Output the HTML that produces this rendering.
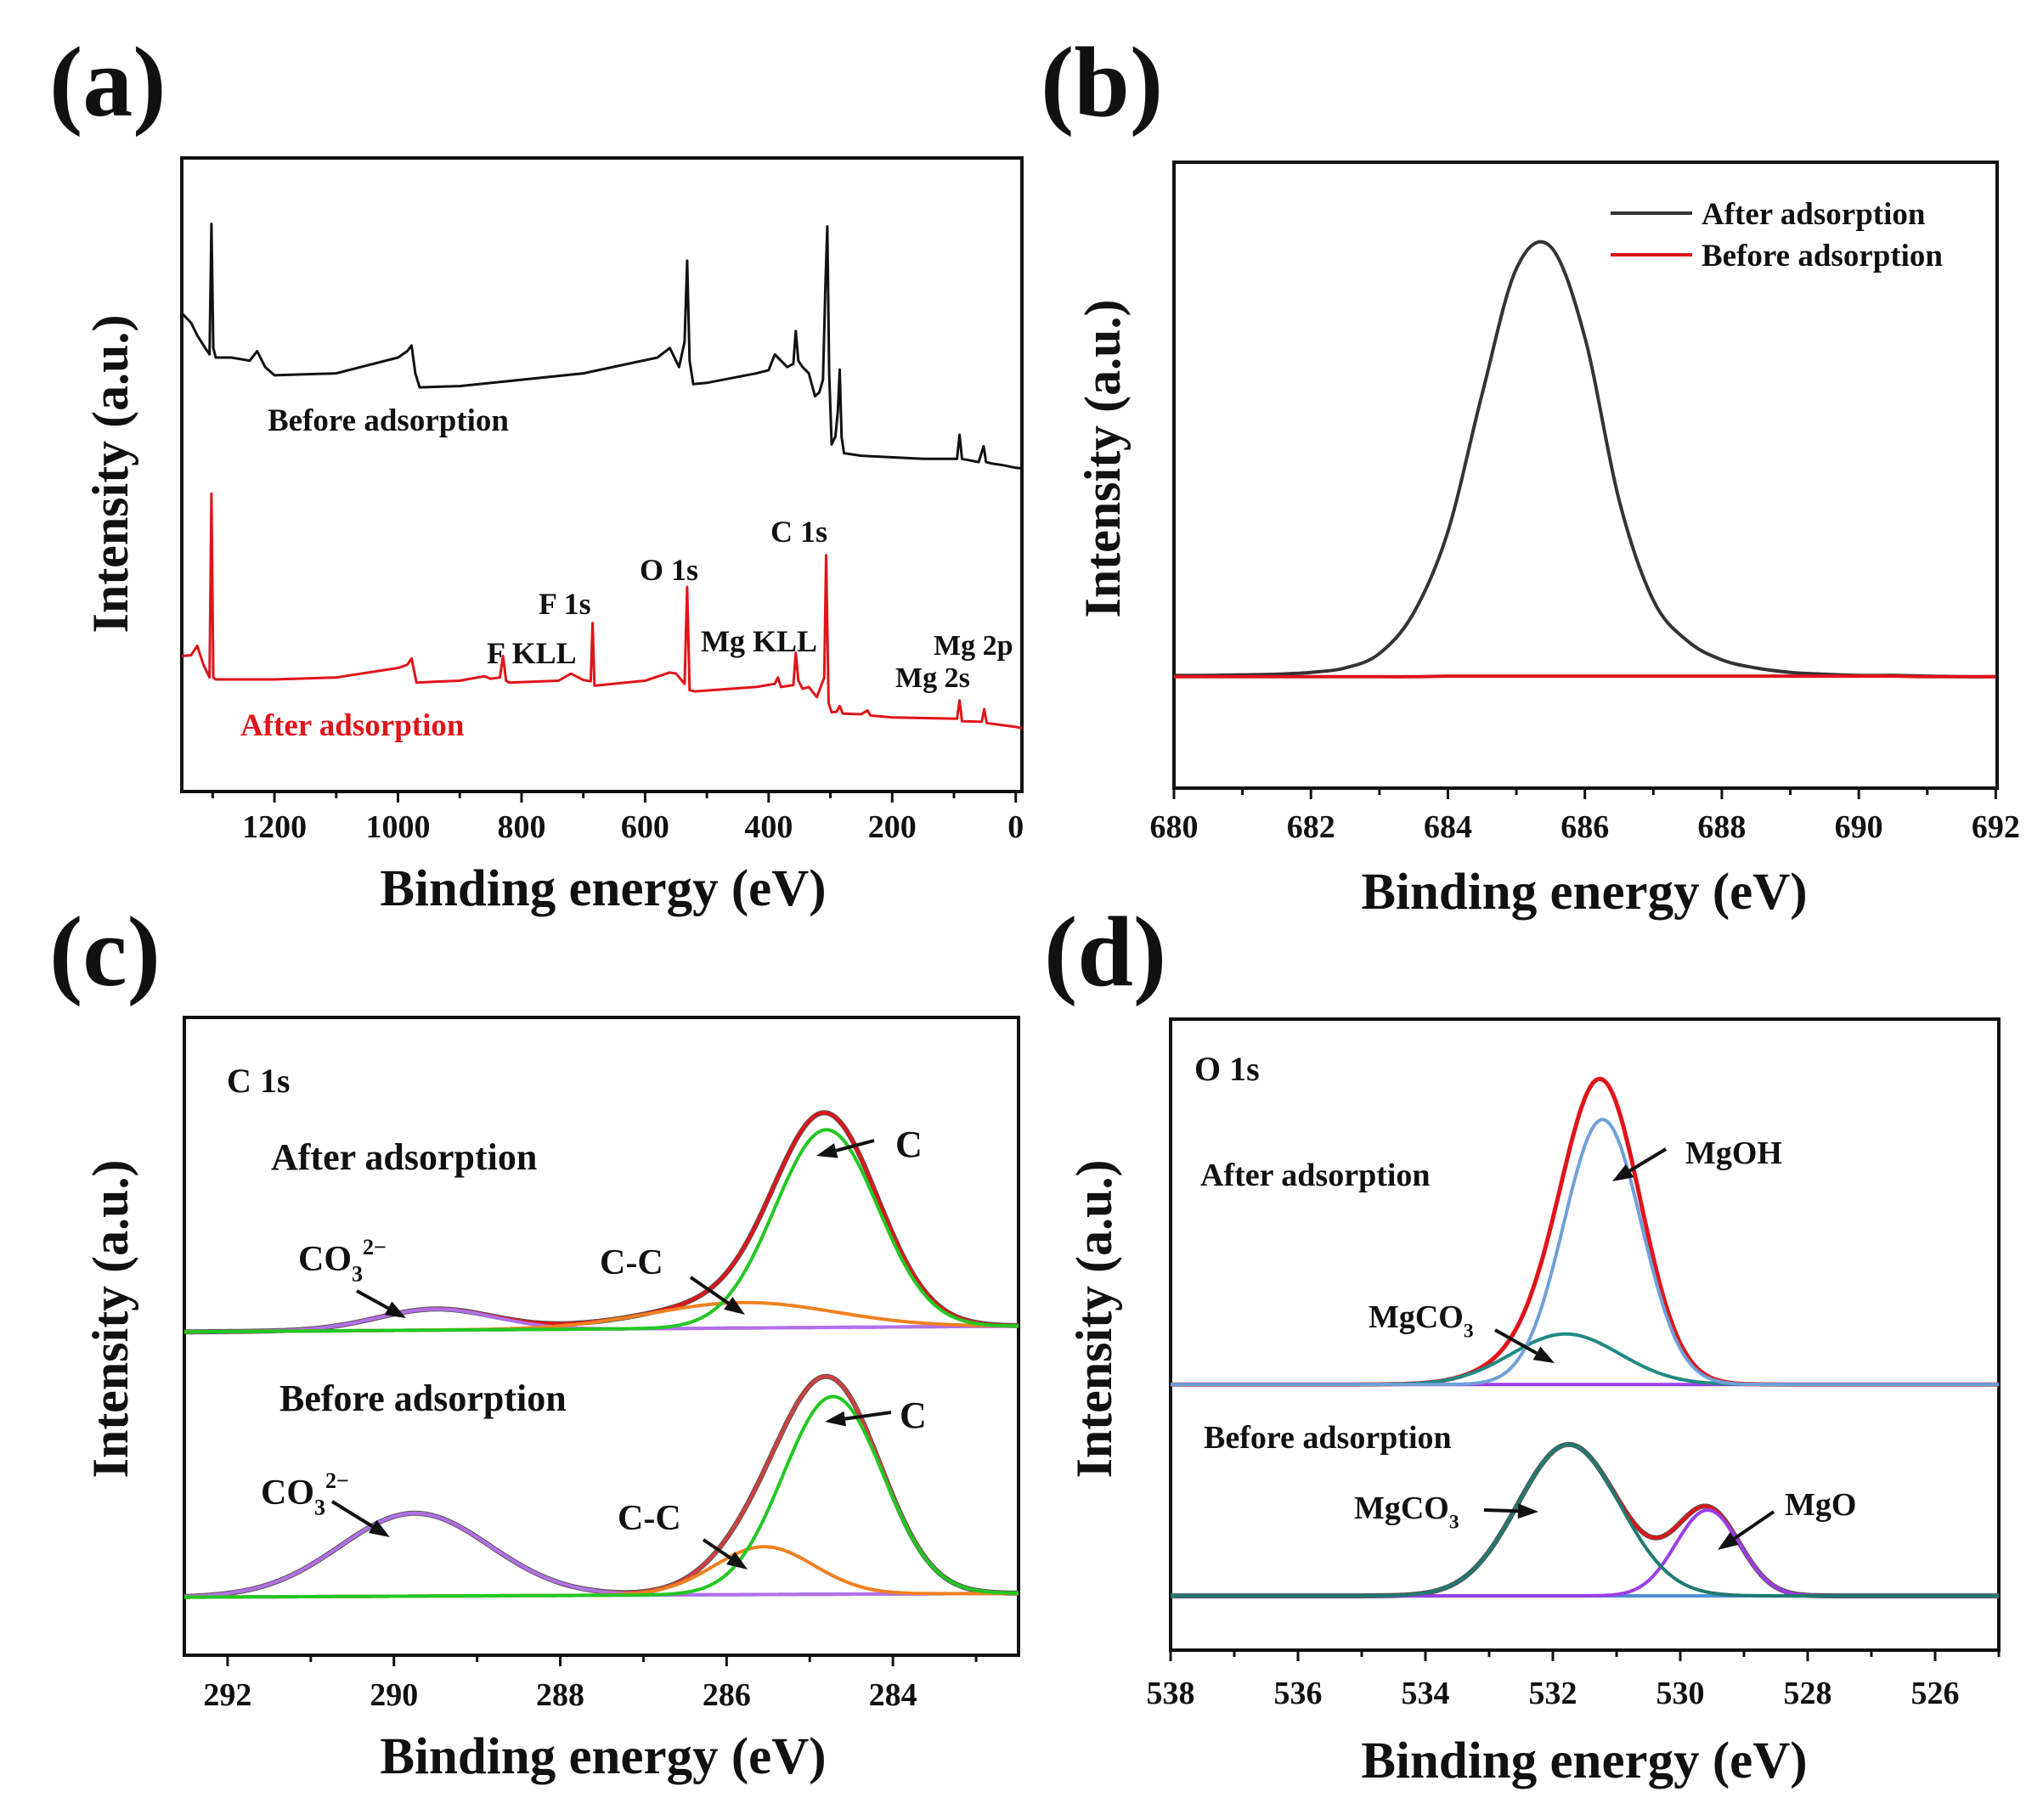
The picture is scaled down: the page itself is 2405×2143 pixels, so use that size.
<!DOCTYPE html>
<html><head><meta charset="utf-8"><style>
html,body{margin:0;padding:0;background:#fff}
svg{display:block}
text{font-family:"Liberation Serif","Times New Roman",serif;font-weight:bold;fill:#111}
</style></head><body>
<svg id="fig" xmlns="http://www.w3.org/2000/svg" width="2405" height="2143" viewBox="0 0 2405 2143">
<rect x="0" y="0" width="2405" height="2143" fill="#fff"/>
</svg>
<script>
// ---------- Panel (a) survey data ----------
const aBeforeE=[1350,1335,1325,1312,1305,1302,1299,1295,1270,1240,1228,1215,1200,1100,1000,985,978,972,965,900,700,580,560,545,536,532,528,522,500,420,400,390,370,360,356,352,345,335,325,318,312,308,305,302,298,292,288,285,282,278,250,150,95,91,87,60,52,48,40,20,0,-10];
const aBeforeI=[75.5,74,72,70,69,89.6,70,68.5,68.5,68,69.5,67,65.7,66,68.5,69.5,70.4,66,63.8,64,66,68.5,70,67,71,83.8,68,64.3,64.5,66,66.5,69,67,67.5,72.7,68,67,66,62.4,63,65,80,89.2,66,54.8,56,60,66.6,56,53.4,53,52.5,52.5,56.3,52.5,52,54.5,52,51.8,51.5,51.1,51];
const aAfterE=[1350,1335,1325,1315,1305,1302,1299,1295,1200,1100,1000,985,978,970,900,860,850,835,830,825,820,740,720,700,688,685,682,600,560,550,536,532,528,520,420,390,385,380,360,356,352,345,335,322,310,307,303,298,290,285,280,250,240,235,200,95,91,87,55,51,47,0,-10];
const aAfterI=[21.4,21.5,23,20,18,47,18,17.7,17.7,18,19.5,20,21,17.2,17.5,18.2,17.8,18,21.4,17.5,17.2,17.5,18.6,17.6,17.4,26.6,16.7,17.5,18.8,18.6,17,32.3,16,15.8,16.5,17,18,16.5,16.8,21.9,17.5,16.2,16.5,14.9,18,37.3,14,12.5,12.6,13.5,12.3,12.2,12.8,12,11.7,11.5,14.4,11.1,11,13,10.8,10.2,10];
const aTicks=[1200,1000,800,600,400,200,0];
// ---------- Panel (b) F 1s ----------
const bE=[680,680.5,681,681.5,682,682.5,683,683.5,684,684.5,685,685.5,686,686.5,687,687.5,688,688.5,689,689.5,690,690.5,691,691.5,692];
const bAfter=[0.18,0.18,0.181,0.182,0.185,0.192,0.215,0.28,0.41,0.63,0.83,0.865,0.72,0.46,0.30,0.235,0.205,0.192,0.185,0.182,0.18,0.18,0.179,0.178,0.178];
const bBefore=[0.178,0.178,0.178,0.178,0.178,0.178,0.178,0.178,0.179,0.179,0.179,0.179,0.179,0.179,0.179,0.179,0.179,0.179,0.179,0.179,0.179,0.179,0.178,0.178,0.178];
const bTicks=[680,682,684,686,688,690,692];
// ---------- Panel (c) C 1s fitted components: [center eV, amplitude, sigma] ----------
const cAfterBase=[0.507,0.516];
const cAfterC=[284.8,0.31,0.62];
const cAfterCC=[285.8,0.04,1.1];
const cAfterCO3=[289.5,0.033,0.7];
const cBeforeBase=[0.091,0.097];
const cBeforeC=[284.72,0.31,0.6];
const cBeforeCC=[285.55,0.075,0.6];
const cBeforeCO3=[289.75,0.13,0.9];
const cTicks=[292,290,288,286,284];
// ---------- Panel (d) O 1s fitted components ----------
const dAfterBase=[0.421,0.421];
const dAfterMgOH=[531.22,0.42,0.61];
const dAfterMgCO3=[531.8,0.08,0.85];
const dBeforeBase=[0.086,0.086];
const dBeforeMgCO3=[531.75,0.24,0.8];
const dBeforeMgO=[529.57,0.136,0.5];
const dTicks=[538,536,534,532,530,528,526];

const NS="http://www.w3.org/2000/svg";
const svg=document.getElementById('fig');
function el(tag,attrs,parent){const e=document.createElementNS(NS,tag);for(const k in attrs)e.setAttribute(k,attrs[k]);(parent||svg).appendChild(e);return e;}
function txt(s,x,y,size,attrs,parent){const t=el('text',Object.assign({x:x,y:y,'font-size':size},attrs||{}),parent);t.textContent=s;return t;}

function makeAxes(P){
  P.sx=e=>P.x0+(P.eL-e)/(P.eL-P.eR)*(P.x1-P.x0);
  P.sy=f=>P.y1-f*(P.y1-P.y0);
  return P;
}
function drawFrame(P,name,ticks,minor,tickY,titleX,titleY,ytX,ytY){
  const g=el('g',{});
  
  
  const fr=el('rect',{x:P.x0,y:P.y0,width:P.x1-P.x0,height:P.y1-P.y0,fill:'none',stroke:'#111','stroke-width':4},g);
  
  
  ticks.forEach(v=>{const x=P.sx(v);
    const l=el('line',{x1:x,y1:P.y1,x2:x,y2:P.y1+13,stroke:'#111','stroke-width':3},g);
    
    
    const t=txt(String(v),x,tickY,38,{'text-anchor':'middle'},g);
    
    
  });
  minor.forEach(v=>{const x=P.sx(v);
    const l=el('line',{x1:x,y1:P.y1,x2:x,y2:P.y1+8,stroke:'#111','stroke-width':3},g);
    
    
  });
  const xt=txt('Binding energy (eV)',titleX,titleY,61,{'text-anchor':'middle'},g);
  
  
  const yt=txt('Intensity (a.u.)',0,0,60,{'text-anchor':'middle',transform:`translate(${ytX},${ytY}) rotate(-90)`},g);
  
  
}
function polyPath(P,E,I,scaleI){
  return E.map((e,i)=>(i?'L':'M')+P.sx(e).toFixed(1)+','+P.sy(I[i]*scaleI).toFixed(1)).join(' ');
}
function smoothPath(P,E,I){
  const pts=E.map((e,i)=>[P.sx(e),P.sy(I[i])]);
  let d='M'+pts[0][0]+','+pts[0][1];
  for(let i=0;i<pts.length-1;i++){
    const p0=pts[Math.max(0,i-1)],p1=pts[i],p2=pts[i+1],p3=pts[Math.min(pts.length-1,i+2)];
    const c1=[p1[0]+(p2[0]-p0[0])/6,p1[1]+(p2[1]-p0[1])/6],c2=[p2[0]-(p3[0]-p1[0])/6,p2[1]-(p3[1]-p1[1])/6];
    d+=` C${c1[0].toFixed(1)},${c1[1].toFixed(1)} ${c2[0].toFixed(1)},${c2[1].toFixed(1)} ${p2[0].toFixed(1)},${p2[1].toFixed(1)}`;
  }
  return d;
}
function gauss(c,e){return c[1]*Math.exp(-Math.pow(e-c[0],2)/(2*c[2]*c[2]));}
function fitPath(P,base,comps){
  let d='';const N=300;
  for(let i=0;i<=N;i++){const e=P.eL+(P.eR-P.eL)*i/N;
    const b=base[0]+(base[1]-base[0])*i/N;
    let v=b;comps.forEach(c=>v+=gauss(c,e));
    d+=(i?'L':'M')+P.sx(e).toFixed(1)+','+P.sy(v).toFixed(1)+' ';}
  return d;
}
function drawPath(d,color,w,name){
  const p=el('path',{d:d,fill:'none',stroke:color,'stroke-width':w,'stroke-linejoin':'round'});
  
  
  return p;
}
function label(s,x,y,size,name,color){
  const t=txt(s,x,y,size,color?{style:'fill:'+color}:{});
  
  
  return t;
}
function chemLabel(base,sub,sup,x,y,size,name){
  const t=el('text',{x:x,y:y,'font-size':size});
  
  
  const a=el('tspan',{},t);a.textContent=base;
  const b=el('tspan',{dy:size*0.3,'font-size':size*0.62},t);b.textContent=sub;
  if(sup){const c=el('tspan',{dy:-size*0.75,'font-size':size*0.62},t);c.textContent=sup;}
  return t;
}
function arrow(x1,y1,x2,y2,name){
  const g=el('g',{});
  
  
  const ang=Math.atan2(y2-y1,x2-x1),L=24,W=9;
  const bx=x2-L*Math.cos(ang),by=y2-L*Math.sin(ang);
  el('line',{x1:x1,y1:y1,x2:bx,y2:by,stroke:'#111','stroke-width':4},g);
  el('polygon',{points:`${x2},${y2} ${bx-W*Math.sin(ang)},${by+W*Math.cos(ang)} ${bx+W*Math.sin(ang)},${by-W*Math.cos(ang)}`,fill:'#111'},g);
}
function panelLetter(s,x,y,name){const t=txt(s,x,y,118,{});}

// ===== Panel a =====
const A=makeAxes({x0:214,x1:1203,y0:186,y1:932,eL:1350,eR:-10});
panelLetter('(a)',58,136,'panel-label-a');
drawFrame(A,'panel-a',aTicks,[1300,1100,900,700,500,300,100],986,710,1066,150,558);
drawPath(polyPath(A,aBeforeE,aBeforeI,0.01),'#111',3,'survey-before-line');
drawPath(polyPath(A,aAfterE,aAfterI,0.01),'#e0141a',3,'survey-after-line');
label('Before adsorption',315,507,37,'before-label-a');
label('After adsorption',283,866,37,'after-label-a','#e0141a');
label('O 1s',753,683,36,'o1s-peak-label');
label('C 1s',907,638,36,'c1s-peak-label');
label('F 1s',634,723,36,'f1s-peak-label');
label('F KLL',573,781,36,'fkll-peak-label');
label('Mg KLL',825,767,36,'mgkll-peak-label');
label('Mg 2p',1099,771,34,'mg2p-peak-label');
label('Mg 2s',1054,809,34,'mg2s-peak-label');

// ===== Panel b =====
const B=makeAxes({x0:1382,x1:2351,y0:191,y1:928,eL:680,eR:692.02});
panelLetter('(b)',1225,136,'panel-label-b');
drawFrame(B,'panel-b',bTicks,[681,683,685,687,689,691],986,1865,1070,1318,540);
drawPath(smoothPath(B,bE,bAfter),'#333',4,'f1s-after-line');
drawPath(smoothPath(B,bE,bBefore),'#e0141a',4,'f1s-before-line');
const lg=el('g',{});


el('line',{x1:1896,y1:251,x2:1992,y2:251,stroke:'#333','stroke-width':4},lg);
el('line',{x1:1896,y1:300,x2:1992,y2:300,stroke:'#e0141a','stroke-width':4},lg);
label('After adsorption',2003,264,37,'legend-after');
label('Before adsorption',2003,313,37,'legend-before');

// ===== Panel c =====
const C=makeAxes({x0:217,x1:1199,y0:1198,y1:1949,eL:292.52,eR:282.49});
panelLetter('(c)',58,1160,'panel-label-c');
drawFrame(C,'panel-c',cTicks,[291,289,287,285,283],2008,710,2088,150,1553);
drawPath(fitPath(C,cAfterBase,[]),'#a070e0',4,'c-after-baseline');
drawPath(fitPath(C,cAfterBase,[cAfterC,cAfterCC,cAfterCO3]),'#555',6,'c-after-raw');
drawPath(fitPath(C,cAfterBase,[cAfterC,cAfterCC,cAfterCO3]),'#e0141a',4,'c-after-envelope');
drawPath(fitPath(C,cAfterBase,[cAfterCO3]),'#b070e8',4,'c-after-co3');
drawPath(fitPath(C,cAfterBase,[cAfterCC]),'#f08020',4,'c-after-cc');
drawPath(fitPath(C,cAfterBase,[cAfterC]),'#22c822',4,'c-after-c');
drawPath(fitPath(C,cBeforeBase,[]),'#8070e8',4,'c-before-baseline');
drawPath(fitPath(C,cBeforeBase,[cBeforeC,cBeforeCC,cBeforeCO3]),'#555',6,'c-before-raw');
drawPath(fitPath(C,cBeforeBase,[cBeforeC,cBeforeCC,cBeforeCO3]),'#d04040',4,'c-before-envelope');
drawPath(fitPath(C,cBeforeBase,[cBeforeCO3]),'#b070e8',4,'c-before-co3');
drawPath(fitPath(C,cBeforeBase,[cBeforeCC]),'#f08020',4,'c-before-cc');
drawPath(fitPath(C,cBeforeBase,[cBeforeC]),'#22c822',4,'c-before-c');
label('C 1s',267,1286,40,'c1s-title');
label('After adsorption',319,1377,44,'after-label-c');
label('Before adsorption',329,1661,44,'before-label-c');
label('C',1054,1362,44,'c-label-after');arrow(1029,1343,961,1361,'c-arrow-after');
chemLabel('CO','3','2−',351,1496,42,'co3-label-after');arrow(420,1520,478,1552,'co3-arrow-after');
label('C-C',706,1500,42,'cc-label-after');arrow(813,1504,877,1548,'cc-arrow-after');
label('C',1059,1681,44,'c-label-before');arrow(1049,1663,971,1674,'c-arrow-before');
chemLabel('CO','3','2−',307,1771,42,'co3-label-before');arrow(391,1768,459,1810,'co3-arrow-before');
label('C-C',727,1801,42,'cc-label-before');arrow(828,1813,880,1848,'cc-arrow-before');

// ===== Panel d =====
const D=makeAxes({x0:1378,x1:2353,y0:1200,y1:1943,eL:538,eR:525});
panelLetter('(d)',1229,1160,'panel-label-d');
drawFrame(D,'panel-d',dTicks,[537,535,533,531,529,527,525],2006,1865,2093,1308,1553);
drawPath(fitPath(D,dAfterBase,[]),'#9a3ee8',4,'d-after-baseline');
drawPath(fitPath(D,dAfterBase,[dAfterMgOH,dAfterMgCO3]),'#e0141a',5,'d-after-envelope');
drawPath(fitPath(D,dAfterBase,[dAfterMgCO3]),'#1f8a85',4,'d-after-mgco3');
drawPath(fitPath(D,dAfterBase,[dAfterMgOH]),'#6fa0d8',4,'d-after-mgoh');
drawPath(fitPath(D,dBeforeBase,[]),'#4a8fd8',4,'d-before-baseline');
drawPath(fitPath(D,dBeforeBase,[dBeforeMgCO3,dBeforeMgO]),'#555',6,'d-before-raw');
drawPath(fitPath(D,dBeforeBase,[dBeforeMgCO3,dBeforeMgO]),'#e0141a',4,'d-before-envelope');
drawPath(fitPath(D,dBeforeBase,[dBeforeMgO]),'#9a3ee8',4,'d-before-mgo');
drawPath(fitPath(D,dBeforeBase,[dBeforeMgCO3]),'#1f7a70',4,'d-before-mgco3');
label('O 1s',1406,1272,40,'o1s-title');
label('After adsorption',1413,1396,38,'after-label-d');
label('Before adsorption',1417,1705,38,'before-label-d');
label('MgOH',1984,1370,38,'mgoh-label');arrow(1961,1353,1898,1391,'mgoh-arrow');
chemLabel('MgCO','3','',1611,1563,38,'mgco3-label-after');arrow(1760,1566,1830,1605,'mgco3-arrow-after');
chemLabel('MgCO','3','',1594,1788,38,'mgco3-label-before');arrow(1747,1778,1811,1780,'mgco3-arrow-before');
label('MgO',2101,1784,38,'mgo-label');arrow(2088,1780,2022,1825,'mgo-arrow');
</script>
</body></html>
